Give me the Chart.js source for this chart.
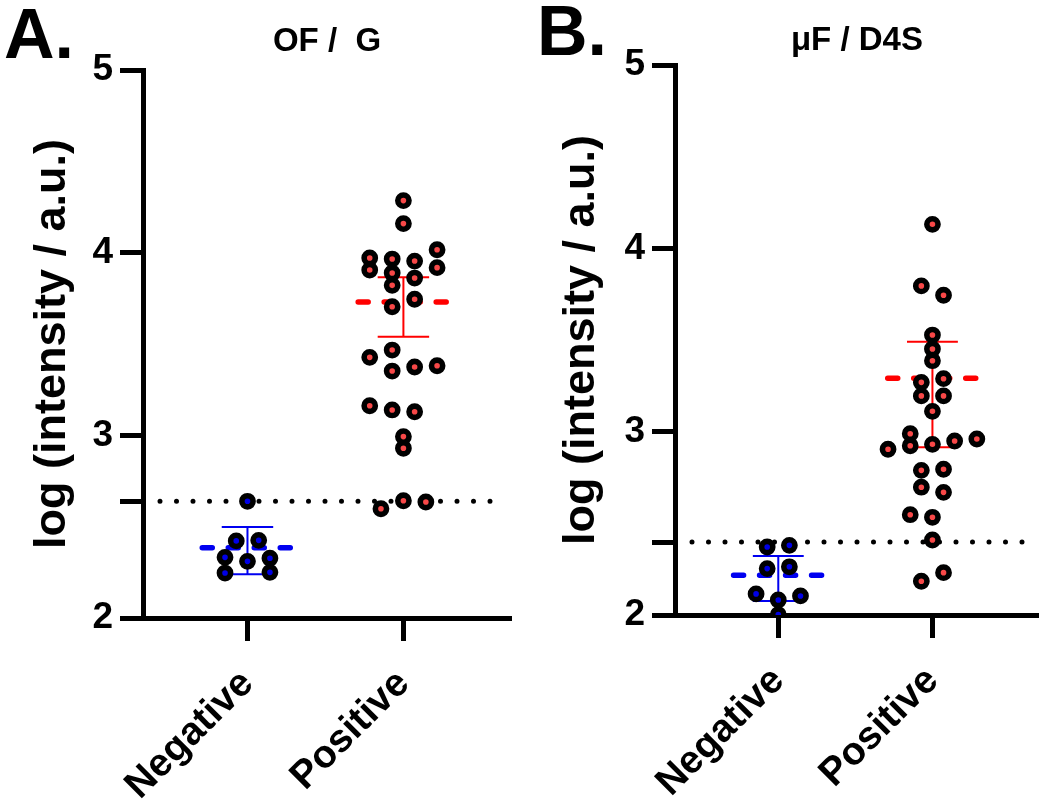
<!DOCTYPE html>
<html>
<head>
<meta charset="utf-8">
<script src="https://cdn.jsdelivr.net/npm/chart.js@4.4.1/dist/chart.umd.min.js"></script>
<style>
  body { margin: 0; background: #fff; }
  #wrap { position: relative; width: 1050px; height: 810px; }
  canvas { position: absolute; top: 0; }
</style>
</head>
<body>
<div id="wrap">
  <canvas id="chartA" width="525" height="810" style="left:0"></canvas>
  <canvas id="chartB" width="525" height="810" style="left:525px"></canvas>
</div>
<script>
const categories = ['Negative', 'Positive'];
const yTicks = [2, 3, 4, 5];

// Panel A: OF / G
const negA = [2.639, 2.422, 2.425, 2.332, 2.310, 2.327, 2.246, 2.250];
const negSlotA = [0, -1, 1, -2, 0, 2, -2, 2];
const posA = [4.285, 4.159, 4.016, 3.971, 3.965, 3.954, 3.905, 3.918, 3.889, 3.861, 3.821,
  3.745, 3.704, 3.467, 3.427, 3.352, 3.374, 3.381, 3.162, 3.139, 3.129, 2.993, 2.929,
  2.598, 2.642, 2.635];
const posSlotA = [0, 0, 3, -3, -1, 1, -3, 3, -1, 1, -1, 1, -1, -1, -3, -1, 1, 3, -3, -1, 1,
  0, 0, -2, 0, 2];
const medianA = [2.385, 3.730];
const lowA = [2.239, 3.540];
const highA = [2.498, 3.865];
const cutoffA = 2.639;

// Panel B: μF / D4S
const negB = [2.371, 2.380, 2.253, 2.263, 2.115, 2.104, 2.082, 2.002];
const negSlotB = [-1, 1, -1, 1, -2, 2, 0, 0];
const posB = [4.131, 3.795, 3.744, 3.527, 3.451, 3.387, 3.289, 3.269, 3.195, 3.195, 3.111,
  2.989, 2.923, 2.904, 2.931, 2.949, 2.960, 2.789, 2.795, 2.697, 2.669, 2.547, 2.533,
  2.409, 2.184, 2.231];
const posSlotB = [0, -1, 1, 0, 0, 0, 1, -1, -1, 1, 0, -2, -2, -4, 0, 2, 4, -1, 1, -1, 1,
  -2, 0, 0, -1, 1];
const medianB = [2.217, 3.291];
const lowB = [2.076, 2.915];
const highB = [2.322, 3.491];
const cutoffB = 2.398;

const FONT = "'Liberation Sans', Arial, sans-serif";
const SLOT = 0.072;
const groupColors = ['#0000f0', '#ff0000'];
const dotColors = ['#0000e6', '#f84848'];

Chart.defaults.font.family = FONT;
Chart.defaults.color = '#000';

// median dash, IQR bars, cutoff dotted line and panel letter
function groupMarks(p) {
  return {
    id: 'groupMarks',
    beforeDatasetsDraw(chart) {
      const { ctx, chartArea, scales: { x, y } } = chart;
      ctx.save();
      const ty = y.getPixelForValue(p.cutoff);
      ctx.strokeStyle = '#000';
      ctx.lineWidth = 5;
      ctx.lineCap = 'round';
      ctx.setLineDash([0, 16.5]);
      ctx.beginPath();
      ctx.moveTo(chartArea.left + 17, ty);
      ctx.lineTo(chartArea.right - 6, ty);
      ctx.stroke();

      p.median.forEach((m, i) => {
        const cx = x.getPixelForValue(i);
        const yl = y.getPixelForValue(p.low[i]);
        const yh = y.getPixelForValue(p.high[i]);
        const cw = x.getPixelForValue(i + 0.165) - cx;
        ctx.strokeStyle = groupColors[i];
        ctx.setLineDash([]);
        ctx.lineCap = 'butt';
        ctx.lineWidth = 2;
        ctx.beginPath();
        ctx.moveTo(cx, yl); ctx.lineTo(cx, yh);
        ctx.moveTo(cx - cw, yl); ctx.lineTo(cx + cw, yl);
        ctx.moveTo(cx - cw, yh); ctx.lineTo(cx + cw, yh);
        ctx.stroke();

        const my = y.getPixelForValue(m);
        const mw = x.getPixelForValue(i + 0.29) - cx;
        ctx.lineWidth = 5.5;
        ctx.lineCap = 'round';
        ctx.setLineDash([10, 16]);
        ctx.beginPath();
        ctx.moveTo(cx - mw, my);
        ctx.lineTo(cx + mw, my);
        ctx.stroke();
      });
      ctx.restore();
    },
    afterDraw(chart) {
      const ctx = chart.ctx;
      ctx.save();
      ctx.fillStyle = '#000';
      ctx.font = 'bold 70px ' + FONT;
      ctx.textBaseline = 'alphabetic';
      ctx.fillText(p.letter, p.letterX, p.letterY);
      ctx.restore();
    }
  };
}

function points(values, slots, cat) {
  return values.map((v, i) => ({ x: cat + slots[i] * SLOT, y: v }));
}

function buildPanel(id, p) {
  return new Chart(document.getElementById(id), {
    type: 'scatter',
    data: {
      datasets: [
        { data: points(p.neg, p.negSlot, 0), backgroundColor: dotColors[0] },
        { data: points(p.pos, p.posSlot, 1), backgroundColor: dotColors[1] }
      ].map(d => Object.assign(d, {
        borderColor: '#000',
        borderWidth: 5.6,
        pointRadius: 5.6,
        pointHoverRadius: 5.6
      }))
    },
    options: {
      responsive: false,
      animation: false,
      layout: { padding: { top: 0, left: 0, right: p.padRight, bottom: 0 } },
      plugins: {
        legend: { display: false },
        tooltip: { enabled: false },
        title: {
          display: true,
          text: p.title,
          fullSize: false,
          color: '#000',
          font: { size: 33, weight: 'bold' },
          padding: { top: p.titleTop, bottom: p.titleBottom }
        }
      },
      scales: {
        x: {
          type: 'linear',
          min: -0.67,
          max: 1.69,
          afterBuildTicks: s => { s.ticks = categories.map((c, i) => ({ value: i })); },
          afterFit: s => { s.height = p.xHeight; },
          ticks: {
            callback: v => categories[v],
            minRotation: 45,
            maxRotation: 45,
            padding: 20,
            color: '#000',
            font: { size: 39, weight: 'bold' }
          },
          grid: { drawOnChartArea: false, tickLength: 23, tickWidth: 5, tickColor: '#000' },
          border: { width: 5, color: '#000' }
        },
        y: {
          min: 2,
          max: 5,
          afterBuildTicks: s => { s.ticks = yTicks.concat([p.cutoff]).map(v => ({ value: v })); },
          afterFit: s => { s.width = p.yWidth; },
          ticks: {
            callback: v => (yTicks.includes(v) ? String(v) : ''),
            padding: 7,
            color: '#000',
            font: { size: 37, weight: 'bold' }
          },
          grid: { drawOnChartArea: false, tickLength: 23, tickWidth: 5, tickColor: '#000' },
          border: { width: 5, color: '#000' },
          title: {
            display: true,
            text: 'log (intensity / a.u.)',
            color: '#000',
            font: { size: 45, weight: 'bold' },
            padding: { top: p.yTitlePad, bottom: 0 }
          }
        }
      }
    },
    plugins: [groupMarks(p)]
  });
}

buildPanel('chartA', {
  title: 'OF /  G', letter: 'A.', letterX: 4, letterY: 58,
  neg: negA, negSlot: negSlotA, pos: posA, posSlot: posSlotA,
  median: medianA, low: lowA, high: highA, cutoff: cutoffA,
  yWidth: 143, xHeight: 192, padRight: 14, titleTop: 22, titleBottom: 8.4, yTitlePad: 26
});

buildPanel('chartB', {
  title: 'μF / D4S', letter: 'B.', letterX: 12, letterY: 55,
  neg: negB, negSlot: negSlotB, pos: posB, posSlot: posSlotB,
  median: medianB, low: lowB, high: highB, cutoff: cutoffB,
  yWidth: 150, xHeight: 195, padRight: 7, titleTop: 20.7, titleBottom: 4.7, yTitlePad: 30
});
</script>
</body>
</html>
